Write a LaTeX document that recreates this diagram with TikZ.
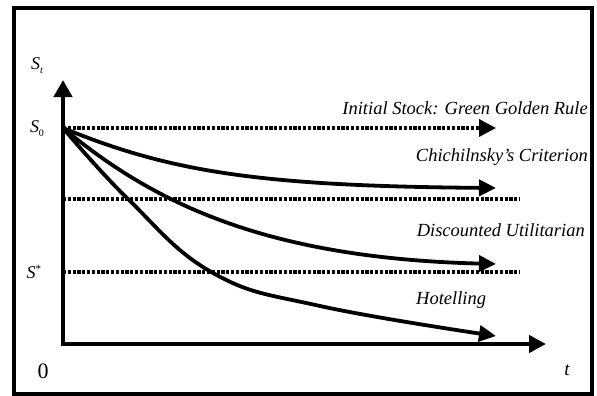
\documentclass[tikz,border=0pt]{standalone}
\usepackage{fontspec}
\setmainfont{Liberation Serif}
\usetikzlibrary{arrows.meta}
\newcommand\mysub[1]{\raisebox{-4pt}{\fontsize{10}{10}\selectfont #1}}
\newcommand\mysup[1]{\raisebox{6pt}{\fontsize{11}{11}\selectfont #1}}
\begin{document}
\begin{tikzpicture}[x=1pt,y=-1pt,
  axis/.style={line width=4.5pt, {Triangle[length=17pt,width=18pt]}-{Triangle[length=17pt,width=17pt]}},
  traj/.style={line width=3.8pt, -{Triangle[length=17pt,width=16pt]}},
  dots/.style={line width=3.6pt, dash pattern=on 3.2pt off 1.6pt},
  lab/.style={font=\fontsize{18.5}{22}\selectfont\itshape, inner sep=0pt},
  sym/.style={font=\fontsize{18}{20}\selectfont, inner sep=0pt},
]
\useasboundingbox (0,0) rectangle (597,396);
\draw[line width=3.5pt] (14,8) rectangle (592,394);
\coordinate (O) at (63,344);
\coordinate (ytip) at (63,80);
\coordinate (xtip) at (546,344);
\coordinate (S0) at (63,128);
% dotted lines
\draw[dots, -{Triangle[length=17pt,width=17pt]}] (S0) -- (496,128);
\draw[dots] (63,199) -- (520,199);
\draw[dots] (63,272) -- (520,272);
% axes
\draw[axis] (ytip) -- (O) -- (xtip);
% trajectories
\draw[traj] (S0) .. controls (170,172) and (260,186) .. (496,188);
\draw[traj] (S0) .. controls (150,200) and (260,258) .. (496,264);
\draw[traj] plot[smooth, tension=0.7] coordinates {(63,128) (128,199) (213,273) (320,306) (496,336)};
% labels
\node[lab, anchor=east] (l1) at (588,108) {Initial Stock: Green Golden Rule};
\node[lab, anchor=east] (l2) at (588,157) {Chichilnsky’s Criterion};
\node[lab, anchor=east] (l3) at (585,230) {Discounted Utilitarian};
\node[lab, anchor=west] (l4) at (416,300) {Hotelling};
\node[sym] (st) at (37,66) {\textit{S}\mysub{\textit{t}}};
\node[sym] (s0) at (37,129) {\textit{S}\mysub{0}};
\node[sym] (ss) at (34,272) {\textit{S}\mysup{*}};
\node[font=\fontsize{22}{24}\selectfont, inner sep=0pt] (zero) at (43,371) {0};
\node[font=\fontsize{19}{20}\selectfont\itshape, inner sep=0pt] (tl) at (567,370) {t};
\end{tikzpicture}
\end{document}
